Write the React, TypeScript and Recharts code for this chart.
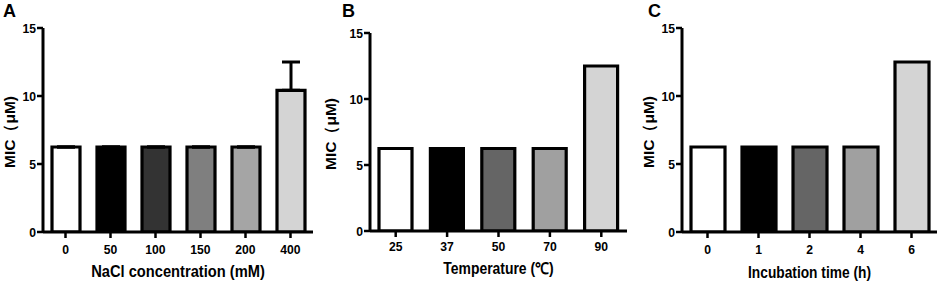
import React from 'react';
import { BarChart, Bar, XAxis, YAxis, Cell, ErrorBar, Label } from 'recharts';

// ---- data ----
const naclCategories = ['0', '50', '100', '150', '200', '400'];
const naclMic = [6.25, 6.25, 6.25, 6.25, 6.25, 10.42];
const naclErrUpper = [0, 0, 0, 0, 0, 2.08];

const tempCategories = ['25', '37', '50', '70', '90'];
const tempMic = [6.25, 6.25, 6.25, 6.25, 12.5];

const timeCategories = ['0', '1', '2', '4', '6'];
const timeMic = [6.25, 6.25, 6.25, 6.25, 12.5];

const micTicks = [0, 5, 10, 15];

// ---- styles ----
const naclColors = ['#ffffff', '#000000', '#333333', '#7f7f7f', '#a5a5a5', '#d4d4d4'];
const tempColors = ['#ffffff', '#000000', '#656565', '#a0a0a0', '#d4d4d4'];
const timeColors = ['#ffffff', '#000000', '#656565', '#a0a0a0', '#d4d4d4'];

const FONT = "'Liberation Sans', Arial, Helvetica, sans-serif";

const naclData = naclCategories.map((c, i) => ({ cat: c, mic: naclMic[i], err: [0, naclErrUpper[i]] }));
const tempData = tempCategories.map((c, i) => ({ cat: c, mic: tempMic[i] }));
const timeData = timeCategories.map((c, i) => ({ cat: c, mic: timeMic[i] }));

type PanelProps = {
  data: any[];
  colors: string[];
  xTitle: string;
  left: number;
  width: number;
  margin: { top: number; right: number; bottom: number; left: number };
  yAxisWidth: number;
  xAxisHeight: number;
  barSize: number;
  xTitleFont: number;
  xTitleScale: number;
  xTickMargin: number;
  yTitleX: number;
  xTitleY: number;
  withError?: boolean;
};

const TICK_FONT = 13.5;
const TICK_SCALE = 0.9;

function CondensedText(props: {
  x: number;
  y: number;
  sx: number;
  size: number;
  anchor: 'start' | 'middle' | 'end';
  dy?: string;
  children: React.ReactNode;
}) {
  return (
    <g transform={`translate(${props.x},${props.y}) scale(${props.sx},1)`}>
      <text
        x={0}
        y={0}
        dy={props.dy}
        textAnchor={props.anchor}
        fill="#000"
        fontSize={props.size}
        fontWeight={700}
        fontFamily={FONT}
      >
        {props.children}
      </text>
    </g>
  );
}

function Panel(p: PanelProps) {
  const xTick = (t: any) => (
    <CondensedText x={t.x} y={t.y} sx={TICK_SCALE} size={TICK_FONT} anchor="middle" dy="0.71em">
      {t.payload.value}
    </CondensedText>
  );
  const yTick = (t: any) => (
    <CondensedText x={t.x} y={t.y} sx={TICK_SCALE} size={TICK_FONT} anchor="end" dy="0.36em">
      {t.payload.value}
    </CondensedText>
  );
  return (
    <div style={{ position: 'absolute', left: p.left, top: 0, width: p.width, height: 284 }}>
      <BarChart width={p.width} height={284} data={p.data} margin={p.margin} barCategoryGap={0}>
        <XAxis
          dataKey="cat"
          type="category"
          height={p.xAxisHeight}
          interval={0}
          axisLine={{ stroke: '#000', strokeWidth: 3 }}
          tickLine={{ stroke: '#000', strokeWidth: 2.5 }}
          tickSize={6}
          tickMargin={p.xTickMargin}
          tick={xTick}
        >
          <Label
            content={(props: any) => {
              const vb = props.viewBox || { x: 0, width: 0 };
              return (
                <CondensedText x={vb.x + vb.width / 2} y={p.xTitleY} sx={p.xTitleScale} size={p.xTitleFont} anchor="middle">
                  {p.xTitle}
                </CondensedText>
              );
            }}
          />
        </XAxis>
        <YAxis
          width={p.yAxisWidth}
          domain={[0, 15]}
          ticks={micTicks}
          interval={0}
          allowDataOverflow
          axisLine={{ stroke: '#000', strokeWidth: 3 }}
          tickLine={{ stroke: '#000', strokeWidth: 2.5 }}
          tickSize={6}
          tickMargin={1}
          tick={yTick}
        >
          <Label
            content={(props: any) => {
              const vb = props.viewBox || { y: 0, height: 0 };
              const cy = vb.y + vb.height / 2 + 2;
              return (
                <text
                  x={p.yTitleX}
                  y={cy}
                  dy="0.35em"
                  transform={`rotate(-90 ${p.yTitleX} ${cy})`}
                  textAnchor="middle"
                  fill="#000"
                  fontSize={15.5}
                  fontWeight={700}
                  fontFamily={FONT}
                >
                  MIC（μM)
                </text>
              );
            }}
          />
        </YAxis>
        <Bar dataKey="mic" barSize={p.barSize} stroke="#000" strokeWidth={3.2} isAnimationActive={false}>
          {p.data.map((d, i) => (
            <Cell key={i} fill={p.colors[i]} />
          ))}
          {p.withError ? (
            <ErrorBar dataKey="err" direction="y" width={9} stroke="#000" strokeWidth={3} isAnimationActive={false} />
          ) : null}
        </Bar>
      </BarChart>
    </div>
  );
}

export default function App() {
  return (
    <div style={{ position: 'absolute', left: 0, top: 0, width: 941, height: 284, background: '#fff', overflow: 'hidden' }}>
      <Panel
        data={naclData}
        colors={naclColors}
        xTitle="NaCl concentration (mM)"
        left={0}
        width={320}
        margin={{ top: 28, right: 7, bottom: 0, left: 0 }}
        yAxisWidth={43}
        xAxisHeight={52}
        barSize={28}
        xTitleFont={16.5}
        xTitleScale={0.89}
        xTickMargin={6}
        yTitleX={10}
        xTitleY={277}
        withError
      />
      <Panel
        data={tempData}
        colors={tempColors}
        xTitle="Temperature (℃)"
        left={320}
        width={320}
        margin={{ top: 33, right: 13, bottom: 0, left: 0 }}
        yAxisWidth={50}
        xAxisHeight={53}
        barSize={33}
        xTitleFont={16}
        xTitleScale={0.87}
        xTickMargin={4.5}
        yTitleX={11}
        xTitleY={273.5}
      />
      <Panel
        data={timeData}
        colors={timeColors}
        xTitle="Incubation time (h)"
        left={630}
        width={311}
        margin={{ top: 28, right: 4, bottom: 0, left: 0 }}
        yAxisWidth={52}
        xAxisHeight={52}
        barSize={34}
        xTitleFont={16}
        xTitleScale={0.86}
        xTickMargin={6.5}
        yTitleX={19}
        xTitleY={277.5}
      />
      <svg width={941} height={284} style={{ position: 'absolute', left: 0, top: 0, pointerEvents: 'none' }}>
        <text x={3} y={17} fontSize={18} fontWeight={700} fontFamily={FONT} fill="#000">A</text>
        <text x={342} y={17} fontSize={18} fontWeight={700} fontFamily={FONT} fill="#000">B</text>
        <text x={648} y={17} fontSize={18} fontWeight={700} fontFamily={FONT} fill="#000">C</text>
      </svg>
    </div>
  );
}
